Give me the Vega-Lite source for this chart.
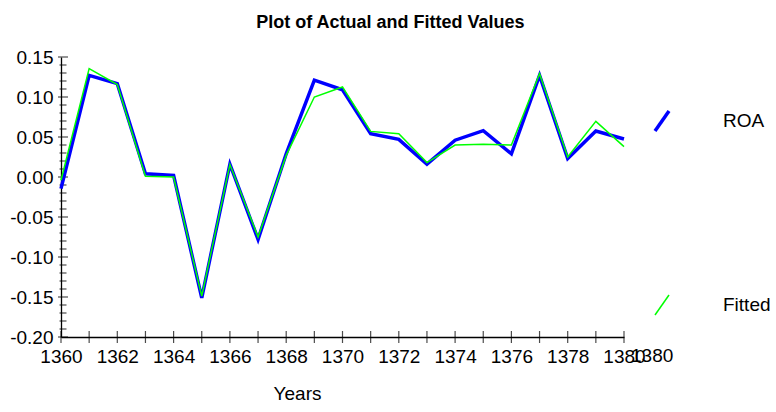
{
  "$schema": "https://vega.github.io/schema/vega-lite/v6.json",
  "width": 563,
  "height": 280,
  "autosize": {"type": "none"},
  "padding": {"left": 61, "top": 57, "right": 152, "bottom": 75},
  "background": "white",
  "title": {
    "text": "Plot of Actual and Fitted Values",
    "font": "Liberation Sans",
    "fontSize": 18,
    "fontWeight": "bold",
    "color": "black",
    "anchor": "middle",
    "frame": "bounds",
    "offset": 16
  },
  "datasets": {
    "series": [
      {"year": 1360, "series": "ROA", "value": -0.0145},
      {"year": 1361, "series": "ROA", "value": 0.127},
      {"year": 1362, "series": "ROA", "value": 0.1167},
      {"year": 1363, "series": "ROA", "value": 0.004},
      {"year": 1364, "series": "ROA", "value": 0.002},
      {"year": 1365, "series": "ROA", "value": -0.151},
      {"year": 1366, "series": "ROA", "value": 0.016},
      {"year": 1367, "series": "ROA", "value": -0.078},
      {"year": 1368, "series": "ROA", "value": 0.029},
      {"year": 1369, "series": "ROA", "value": 0.121},
      {"year": 1370, "series": "ROA", "value": 0.109},
      {"year": 1371, "series": "ROA", "value": 0.054},
      {"year": 1372, "series": "ROA", "value": 0.047},
      {"year": 1373, "series": "ROA", "value": 0.016},
      {"year": 1374, "series": "ROA", "value": 0.046},
      {"year": 1375, "series": "ROA", "value": 0.058},
      {"year": 1376, "series": "ROA", "value": 0.029},
      {"year": 1377, "series": "ROA", "value": 0.127},
      {"year": 1378, "series": "ROA", "value": 0.023},
      {"year": 1379, "series": "ROA", "value": 0.0575},
      {"year": 1380, "series": "ROA", "value": 0.0475},
      {"year": 1360, "series": "Fitted", "value": -0.004},
      {"year": 1361, "series": "Fitted", "value": 0.1355},
      {"year": 1362, "series": "Fitted", "value": 0.1155},
      {"year": 1363, "series": "Fitted", "value": 0.001},
      {"year": 1364, "series": "Fitted", "value": 0.0},
      {"year": 1365, "series": "Fitted", "value": -0.149},
      {"year": 1366, "series": "Fitted", "value": 0.0155},
      {"year": 1367, "series": "Fitted", "value": -0.075},
      {"year": 1368, "series": "Fitted", "value": 0.027},
      {"year": 1369, "series": "Fitted", "value": 0.1},
      {"year": 1370, "series": "Fitted", "value": 0.1125},
      {"year": 1371, "series": "Fitted", "value": 0.057},
      {"year": 1372, "series": "Fitted", "value": 0.054},
      {"year": 1373, "series": "Fitted", "value": 0.018},
      {"year": 1374, "series": "Fitted", "value": 0.04},
      {"year": 1375, "series": "Fitted", "value": 0.041},
      {"year": 1376, "series": "Fitted", "value": 0.04},
      {"year": 1377, "series": "Fitted", "value": 0.129},
      {"year": 1378, "series": "Fitted", "value": 0.025},
      {"year": 1379, "series": "Fitted", "value": 0.0696},
      {"year": 1380, "series": "Fitted", "value": 0.038}
    ],
    "yticks": [
      {"v": -0.20, "kind": "major"}, {"v": -0.19, "kind": "minor"}, {"v": -0.18, "kind": "minor"}, {"v": -0.17, "kind": "minor"}, {"v": -0.16, "kind": "minor"},
      {"v": -0.15, "kind": "major"}, {"v": -0.14, "kind": "minor"}, {"v": -0.13, "kind": "minor"}, {"v": -0.12, "kind": "minor"}, {"v": -0.11, "kind": "minor"},
      {"v": -0.10, "kind": "major"}, {"v": -0.09, "kind": "minor"}, {"v": -0.08, "kind": "minor"}, {"v": -0.07, "kind": "minor"}, {"v": -0.06, "kind": "minor"},
      {"v": -0.05, "kind": "major"}, {"v": -0.04, "kind": "minor"}, {"v": -0.03, "kind": "minor"}, {"v": -0.02, "kind": "minor"}, {"v": -0.01, "kind": "minor"},
      {"v": 0.00, "kind": "major"}, {"v": 0.01, "kind": "minor"}, {"v": 0.02, "kind": "minor"}, {"v": 0.03, "kind": "minor"}, {"v": 0.04, "kind": "minor"},
      {"v": 0.05, "kind": "major"}, {"v": 0.06, "kind": "minor"}, {"v": 0.07, "kind": "minor"}, {"v": 0.08, "kind": "minor"}, {"v": 0.09, "kind": "minor"},
      {"v": 0.10, "kind": "major"}, {"v": 0.11, "kind": "minor"}, {"v": 0.12, "kind": "minor"}, {"v": 0.13, "kind": "minor"}, {"v": 0.14, "kind": "minor"},
      {"v": 0.15, "kind": "major"}
    ],
    "xticks": [
      {"year": 1360}, {"year": 1361}, {"year": 1362}, {"year": 1363}, {"year": 1364}, {"year": 1365}, {"year": 1366},
      {"year": 1367}, {"year": 1368}, {"year": 1369}, {"year": 1370}, {"year": 1371}, {"year": 1372}, {"year": 1373},
      {"year": 1374}, {"year": 1375}, {"year": 1376}, {"year": 1377}, {"year": 1378}, {"year": 1379}, {"year": 1380}
    ],
    "extra": [{"label": "1380"}]
  },
  "encoding": {
    "x": {
      "type": "quantitative",
      "scale": {"domain": [1360, 1380], "nice": false, "zero": false},
      "axis": {
        "values": [1360, 1362, 1364, 1366, 1368, 1370, 1372, 1374, 1376, 1378, 1380],
        "format": "d",
        "title": "Years",
        "titleX": 236,
        "titleY": 56,
        "titleBaseline": "middle",
        "titleAnchor": "start",
        "titleAlign": "center",
        "ticks": false,
        "tickSize": 0,
        "labelPadding": 10,
        "labelOverlap": false,
        "labelFlush": false,
        "labelBound": false,
        "grid": false
      }
    },
    "y": {
      "type": "quantitative",
      "scale": {"domain": [-0.2, 0.15], "nice": false, "zero": false},
      "axis": {
        "values": [-0.2, -0.15, -0.1, -0.05, 0, 0.05, 0.1, 0.15],
        "labelExpr": "replace(format(datum.value, '.2f'), '\u2212', '-')",
        "title": null,
        "ticks": false,
        "tickSize": 0,
        "labelPadding": 8,
        "labelOverlap": false,
        "labelFlush": false,
        "labelBound": false,
        "grid": false
      }
    }
  },
  "layer": [
    {
      "mark": {"type": "rule", "color": "#606060", "strokeWidth": 1.5, "strokeDash": [7, 7]},
      "encoding": {"y": {"datum": 0, "type": "quantitative"}}
    },
    {
      "data": {"name": "yticks"},
      "mark": {"type": "tick", "orient": "horizontal", "color": "black", "thickness": 1.2, "xOffset": 2},
      "encoding": {
        "y": {"field": "v", "type": "quantitative"},
        "x": {"datum": 1360, "type": "quantitative"},
        "size": {"field": "kind", "type": "nominal", "scale": {"domain": ["major", "minor"], "range": [10, 7]}, "legend": null}
      }
    },
    {
      "data": {"name": "xticks"},
      "mark": {"type": "tick", "orient": "vertical", "color": "black", "thickness": 1.2, "size": 12},
      "encoding": {
        "x": {"field": "year", "type": "quantitative"},
        "y": {"datum": -0.2, "type": "quantitative"}
      }
    },
    {
      "data": {"name": "extra"},
      "mark": {"type": "text", "font": "Liberation Sans", "fontSize": 19, "color": "black", "align": "center", "baseline": "top", "dy": 10, "clip": false},
      "encoding": {
        "x": {"datum": 1381, "type": "quantitative"},
        "y": {"datum": -0.2, "type": "quantitative"},
        "text": {"field": "label", "type": "nominal"}
      }
    },
    {
      "data": {"name": "series"},
      "transform": [{"filter": "datum.series == 'ROA'"}],
      "mark": {"type": "line", "strokeJoin": "miter"},
      "encoding": {
        "x": {"field": "year", "type": "quantitative"},
        "y": {"field": "value", "type": "quantitative"},
        "color": {"field": "series", "type": "nominal", "scale": {"domain": ["ROA", "Fitted"], "range": ["#0000ff", "#00ff00"]}, "legend": {"title": null}},
        "strokeWidth": {"field": "series", "type": "nominal", "scale": {"domain": ["ROA", "Fitted"], "range": [3.5, 1.5]}, "legend": {"title": null}}
      }
    },
    {
      "data": {"name": "series"},
      "transform": [{"filter": "datum.series == 'Fitted'"}],
      "mark": {"type": "line", "strokeJoin": "miter"},
      "encoding": {
        "x": {"field": "year", "type": "quantitative"},
        "y": {"field": "value", "type": "quantitative"},
        "color": {"field": "series", "type": "nominal", "legend": {"title": null}},
        "strokeWidth": {"field": "series", "type": "nominal", "legend": {"title": null}}
      }
    }
  ],
  "config": {
    "view": {"stroke": null},
    "font": "Liberation Sans",
    "axis": {
      "domainColor": "black",
      "domainWidth": 1.3,
      "labelFont": "Liberation Sans",
      "labelFontSize": 19,
      "labelColor": "black",
      "titleFont": "Liberation Sans",
      "titleFontSize": 19,
      "titleFontWeight": "normal",
      "titleColor": "black"
    },
    "legend": {
      "orient": "none",
      "legendX": 589,
      "legendY": 52,
      "symbolType": "M-0.7,1L0.7,-1",
      "symbolSize": 400,
      "labelOffset": 49,
      "rowPadding": 154,
      "labelFont": "Liberation Sans",
      "labelFontSize": 19,
      "labelColor": "black",
      "symbolFillColor": "transparent"
    }
  }
}
